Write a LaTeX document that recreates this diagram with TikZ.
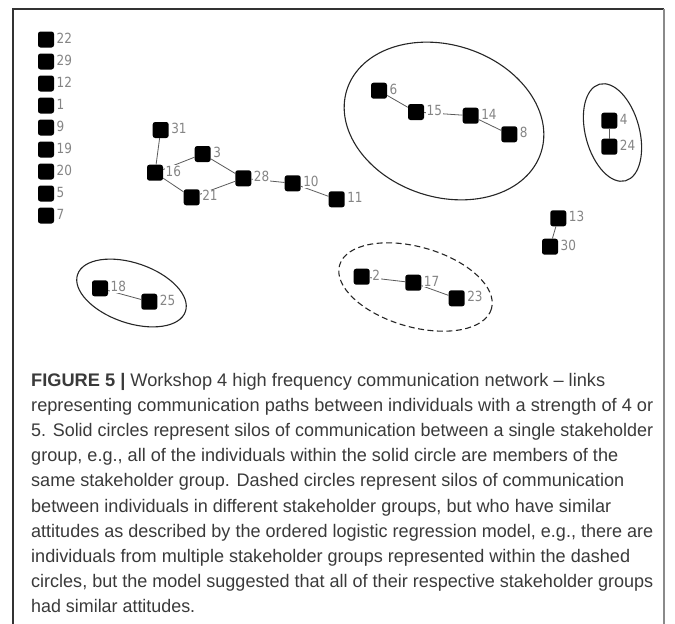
\documentclass[tikz,border=0pt]{standalone}
\usepackage{graphicx}
\usepackage{fontspec}
\setmainfont{Liberation Sans}
\newfontfamily\labfont[FakeStretch=0.86]{DejaVu Sans}
\definecolor{labgray}{HTML}{858585}
\definecolor{edgegray}{HTML}{5A5A5A}
\definecolor{captext}{HTML}{3A3A3A}
\definecolor{framegray}{HTML}{8A8A8A}
\newcommand\capfit[2]{\resizebox{#1pt}{\height}{#2}}
\begin{document}
\begin{tikzpicture}[x=1pt,y=-1pt,
  sq/.style={fill=black, rounded corners=2.5pt, minimum size=16pt, inner sep=0pt, draw=none},
  lab/.style={anchor=west, font=\labfont\fontsize{14}{16}\selectfont, text=labgray, fill=white, inner sep=0.6pt, xshift=1.6pt, yshift=1.5pt},
  link/.style={draw=edgegray, line width=0.8pt},
  silo/.style={draw=black!85, line width=1.1pt},
  capline/.style={anchor=base west, inner sep=0pt, text=captext, font=\fontsize{18.2}{25}\selectfont}]
\useasboundingbox (0,0) rectangle (675,624);
% frame
\draw[black!80, line width=1.1pt] (13,624) -- (13,9) -- (664,9);
\draw[framegray, line width=2pt] (664,9) -- (664,624);
% nodes
\foreach \n/\x/\y in {22/46/39.5, 29/46/61.5, 12/46/83.5, 1/46/105.5, 9/46/127.5, 19/46/149.5, 20/46/171.5, 5/46/193.5, 7/46/215.5,
  31/160.7/130, 3/202.7/154, 16/155/172.7, 28/243.3/178.3, 21/191.7/197.3, 10/292.7/183.3, 11/336.7/199.3,
  6/379/90.7, 15/416/112, 14/470.7/115.7, 8/509.3/134.3,
  4/609.3/120.7, 24/609.3/146.7, 13/558.3/218.3, 30/550/246.7,
  18/100/288.3, 25/149.3/301.7, 2/361.7/276.7, 17/413.3/282.7, 23/456.7/298.3}
  {\node[sq] (n\n) at (\x,\y) {};}
% links
\foreach \a/\b in {31/16, 16/3, 3/28, 16/21, 21/28, 28/10, 10/11, 6/15, 15/14, 14/8, 4/24, 13/30, 18/25, 2/17, 17/23}
  {\draw[link] (n\a) -- (n\b);}
% labels
\foreach \n in {22,29,12,1,9,19,20,5,7,31,3,16,28,21,10,11,6,15,14,8,4,24,13,30,18,25,2,17,23}
  {\node[lab] (l\n) at (n\n.east) {\n};}
% silos
\draw[silo, shift={(444,121)}, rotate=-18] (0,0) ellipse [x radius=102, y radius=76];
\draw[silo, shift={(612.5,132.5)}, rotate=15] (0,0) ellipse [x radius=27, y radius=50];
\draw[silo, shift={(131.5,293)}, rotate=-19] (0,0) ellipse [x radius=57, y radius=30];
\draw[silo, dash pattern=on 6pt off 3.5pt, shift={(415.5,287)}, rotate=-16] (0,0) ellipse [x radius=79, y radius=40];
% caption
\node[capline] (c1) at (31,386) {\capfit{574}{\textbf{FIGURE 5 |} Workshop 4 high frequency communication network – links}};
\node[capline] (c2) at (31,411.2) {\capfit{622}{representing communication paths between individuals with a strength of 4 or}};
\node[capline] (c3) at (31,436.4) {\capfit{622}{5. Solid circles represent silos of communication between a single stakeholder}};
\node[capline] (c4) at (31,461.6) {\capfit{587}{group, e.g., all of the individuals within the solid circle are members of the}};
\node[capline] (c5) at (31,486.8) {\capfit{593}{same stakeholder group. Dashed circles represent silos of communication}};
\node[capline] (c6) at (31,512) {\capfit{580}{between individuals in different stakeholder groups, but who have similar}};
\node[capline] (c7) at (31,537.2) {\capfit{622}{attitudes as described by the ordered logistic regression model, e.g., there are}};
\node[capline] (c8) at (31,562.4) {\capfit{599}{individuals from multiple stakeholder groups represented within the dashed}};
\node[capline] (c9) at (31,587.6) {\capfit{622}{circles, but the model suggested that all of their respective stakeholder groups}};
\node[capline] (c10) at (31,612.8) {\capfit{164}{had similar attitudes.}};
\end{tikzpicture}
\end{document}
